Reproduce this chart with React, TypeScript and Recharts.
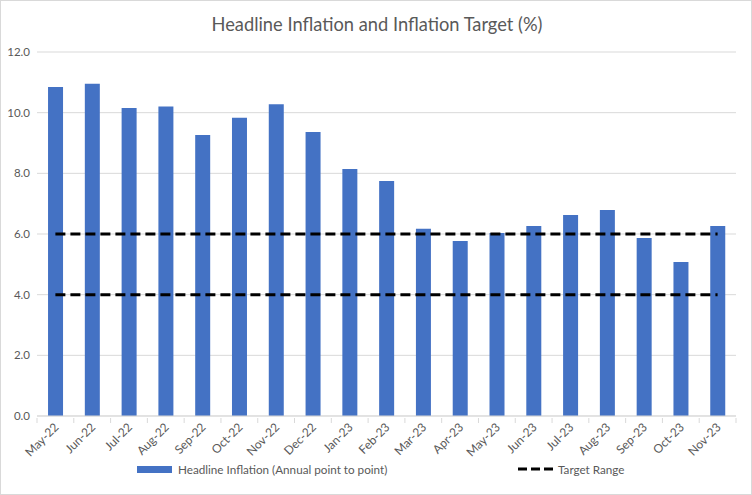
import React from "react";
import { ComposedChart, Bar, Line, XAxis, YAxis, CartesianGrid } from "recharts";

const months = [
  "May-22", "Jun-22", "Jul-22", "Aug-22", "Sep-22", "Oct-22", "Nov-22", "Dec-22",
  "Jan-23", "Feb-23", "Mar-23", "Apr-23", "May-23", "Jun-23", "Jul-23", "Aug-23",
  "Sep-23", "Oct-23", "Nov-23",
];
const headline = [
  10.85, 10.95, 10.15, 10.2, 9.26, 9.83, 10.28, 9.36,
  8.14, 7.75, 6.17, 5.77, 6.03, 6.26, 6.63, 6.79,
  5.87, 5.08, 6.26,
];
const targetUpper = 6;
const targetLower = 4;
const yTicks = [0, 2, 4, 6, 8, 10, 12];

const data = months.map((m, i) => ({
  month: m,
  headline: headline[i],
  upper: targetUpper,
  lower: targetLower,
}));

const W = 752;
const H = 495;
const X_AXIS_H = 50;
const M = { top: 52, right: 16, bottom: 79 - X_AXIS_H, left: 0 };
const Y_AXIS_W = 37;
const BAND = (W - M.left - M.right - Y_AXIS_W) / months.length;
const TEXT = "#595959";
const FONT = "Lato, 'Open Sans', sans-serif";

function MonthTick(props: any) {
  const { x, y, payload, index } = props;
  const left = x - BAND / 2;
  return (
    <g>
      <line x1={left} x2={left} y1={y} y2={y + 5} stroke="#d9d9d9" />
      {index === months.length - 1 && (
        <line x1={left + BAND} x2={left + BAND} y1={y} y2={y + 5} stroke="#d9d9d9" />
      )}
      <text
        x={x + 4}
        y={y + 10}
        textAnchor="end"
        fill={TEXT}
        fontSize={12}
        fontFamily={FONT}
        transform={`rotate(-45, ${x + 4}, ${y + 10})`}
      >
        {payload.value}
      </text>
    </g>
  );
}

export default function App() {
  return (
    <div
      style={{
        position: "absolute",
        left: 0,
        top: 0,
        width: W,
        height: H,
        boxSizing: "border-box",
        border: "1px solid #d9d9d9",
        background: "#fff",
        fontFamily: FONT,
      }}
    >
      <div
        style={{
          position: "absolute",
          top: 12,
          left: 0,
          width: W,
          textAlign: "center",
          fontSize: 18.3,
          color: TEXT,
        }}
      >
        Headline Inflation and Inflation Target (%)
      </div>
      <div style={{ position: "absolute", left: -1, top: -1 }}>
        <ComposedChart width={W} height={H} data={data} margin={M} barCategoryGap="30%">
          <CartesianGrid vertical={false} stroke="#d9d9d9" />
          <XAxis
            dataKey="month"
            interval={0}
            tickLine={false}
            tickSize={0}
            stroke="#d9d9d9"
            tick={<MonthTick />}
            height={X_AXIS_H}
          />
          <YAxis
            domain={[0, 12]}
            ticks={yTicks}
            width={Y_AXIS_W}
            axisLine={false}
            tickLine={false}
            tickSize={0}
            tickMargin={7}
            tickFormatter={(v: number) => v.toFixed(1)}
            tick={{ fill: TEXT, fontSize: 11.5, fontFamily: FONT }}
          />
          <Bar dataKey="headline" fill="#4472C4" isAnimationActive={false} />
          <Line
            dataKey="upper"
            stroke="#000"
            strokeWidth={3}
            strokeDasharray="10 5"
            dot={false}
            activeDot={false}
            isAnimationActive={false}
          />
          <Line
            dataKey="lower"
            stroke="#000"
            strokeWidth={3}
            strokeDasharray="10 5"
            dot={false}
            activeDot={false}
            isAnimationActive={false}
          />
        </ComposedChart>
      </div>
      <div
        style={{
          position: "absolute",
          top: 461,
          left: 136,
          display: "flex",
          alignItems: "center",
          fontSize: 11.7,
          color: TEXT,
          whiteSpace: "nowrap",
        }}
      >
        <span style={{ display: "inline-block", width: 35, height: 7, background: "#4472C4", marginRight: 6 }} />
        <span>Headline Inflation (Annual point to point)</span>
      </div>
      <div
        style={{
          position: "absolute",
          top: 461,
          left: 516,
          display: "flex",
          alignItems: "center",
          fontSize: 11.7,
          color: TEXT,
          whiteSpace: "nowrap",
        }}
      >
        <svg width={36} height={8} style={{ marginRight: 5 }}>
          <line x1={1} x2={36} y1={4} y2={4} stroke="#000" strokeWidth={3} strokeDasharray="9 4" />
        </svg>
        <span>Target Range</span>
      </div>
    </div>
  );
}
